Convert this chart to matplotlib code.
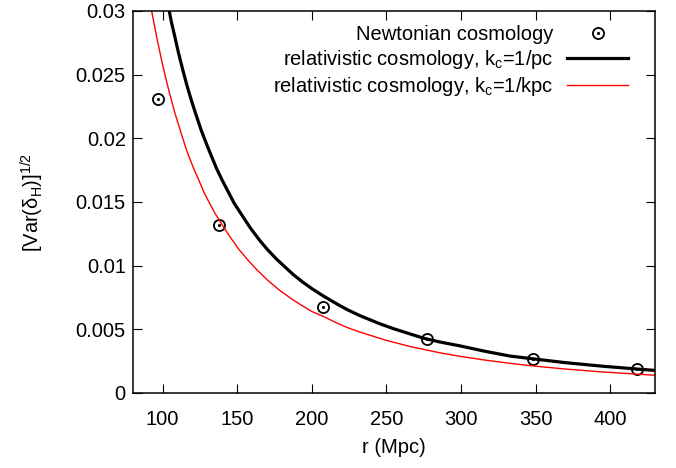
import numpy as np
import matplotlib
matplotlib.use('Agg')
import matplotlib.pyplot as plt
from matplotlib.legend_handler import HandlerTuple

plt.rcParams['font.family'] = ['Liberation Sans', 'DejaVu Sans']
plt.rcParams['mathtext.fontset'] = 'custom'
plt.rcParams['mathtext.rm'] = 'Liberation Sans'
plt.rcParams['mathtext.it'] = 'Liberation Sans:italic'

# Newtonian cosmology points
r_newt = [97, 138, 207.7, 277.2, 348.4, 418]
v_newt = [0.0231, 0.0132, 0.00677, 0.00426, 0.00267, 0.00188]

# relativistic, k_c = 1/pc
r_pc = [104.5, 106, 108, 110.5, 113.5, 116, 119, 122, 126, 131, 136.3, 140,
        144, 148, 153, 158.6, 165, 170, 176.5, 182, 187.6, 194, 200, 208,
        216.7, 224, 232.3, 245.7, 255, 265.8, 275, 286, 299.3, 315, 332.8,
        348.4, 370, 395, 418, 430]
v_pc = [0.0300, 0.0291, 0.0281, 0.0268, 0.0254, 0.0243, 0.0231, 0.0220,
        0.0206, 0.0191, 0.0176, 0.0167, 0.0158, 0.0149, 0.0140, 0.0130,
        0.0120, 0.0113, 0.0105, 0.0099, 0.0093, 0.0087, 0.0082, 0.0076,
        0.0070, 0.00653, 0.00607, 0.00543, 0.00504, 0.00464, 0.0043, 0.0040,
        0.0037, 0.0033, 0.0029, 0.00268, 0.00238, 0.00210, 0.00188, 0.00177]

# relativistic, k_c = 1/kpc
r_kpc = [92.7, 96, 99.4, 102, 105, 108.5, 112.2, 116, 120.6, 124, 128, 131.5,
         135.2, 140, 145, 151, 157.5, 163, 170, 178, 187.6, 193, 200, 208,
         216.7, 224, 232.3, 250, 265.8, 286, 299.3, 315, 332.8, 348.4, 370,
         395, 418, 430]
v_kpc = [0.0300, 0.0280, 0.0261, 0.0248, 0.0234, 0.0219, 0.0205, 0.0191,
         0.0177, 0.0168, 0.0157, 0.0149, 0.0141, 0.0132, 0.0123, 0.0113,
         0.0104, 0.0097, 0.0089, 0.0081, 0.0073, 0.0069, 0.0064, 0.0060,
         0.00550, 0.00513, 0.00478, 0.00413, 0.00365, 0.00315, 0.00288,
         0.00260, 0.00233, 0.00212, 0.00188, 0.00165, 0.00148, 0.00139]

xticks = [100, 150, 200, 250, 300, 350, 400]
yticks = [0, 0.005, 0.01, 0.015, 0.02, 0.025, 0.03]
ytick_labels = ['0', '0.005', '0.01', '0.015', '0.02', '0.025', '0.03']

fig = plt.figure(figsize=(6.76, 4.68), dpi=100)
ax = fig.add_axes([0.1963, 0.1603, 0.9690 - 0.1963, 0.9765 - 0.1603])

circ, = ax.plot(r_newt, v_newt, ls='none', marker='o', ms=8, mfc='none',
                mec='black', mew=1.3)
dot, = ax.plot(r_newt, v_newt, ls='none', marker='.', ms=2.5, color='black')
lpc, = ax.plot(r_pc, v_pc, color='black', lw=2.3, solid_joinstyle='round')
lkpc, = ax.plot(r_kpc, v_kpc, color='red', lw=1.0, solid_joinstyle='round')

ax.set_xlim(80, 430)
ax.set_ylim(0, 0.03)
ax.set_xticks(xticks)
ax.set_yticks(yticks)
ax.set_yticklabels(ytick_labels)
ax.tick_params(direction='in', length=6.5, width=0.8, top=True, right=True,
               labelsize=14.5)
ax.tick_params(axis='x', pad=12)
ax.tick_params(axis='y', pad=5)
for s in ax.spines.values():
    s.set_linewidth(1.1)

ax.set_xlabel('r (Mpc)', fontsize=14.5, labelpad=7)
ax.set_ylabel(r'[Var(δ$_\mathrm{H}$)]$^\mathrm{1/2}$', fontsize=14.5, labelpad=21)

leg = ax.legend([(circ, dot), lpc, lkpc],
                ['Newtonian cosmology',
                 r'relativistic cosmology, k$_\mathrm{c}$=1/pc',
                 r'relativistic cosmology, k$_\mathrm{c}$=1/kpc'],
                handler_map={tuple: HandlerTuple(ndivide=1, pad=0)},
                loc='upper right', bbox_to_anchor=(0.975, 1.0),
                frameon=False, markerfirst=False, fontsize=14.5,
                handlelength=3.0, handletextpad=0.7, labelspacing=0.2,
                borderpad=0.2)

fig.savefig('out.png', dpi=100)
